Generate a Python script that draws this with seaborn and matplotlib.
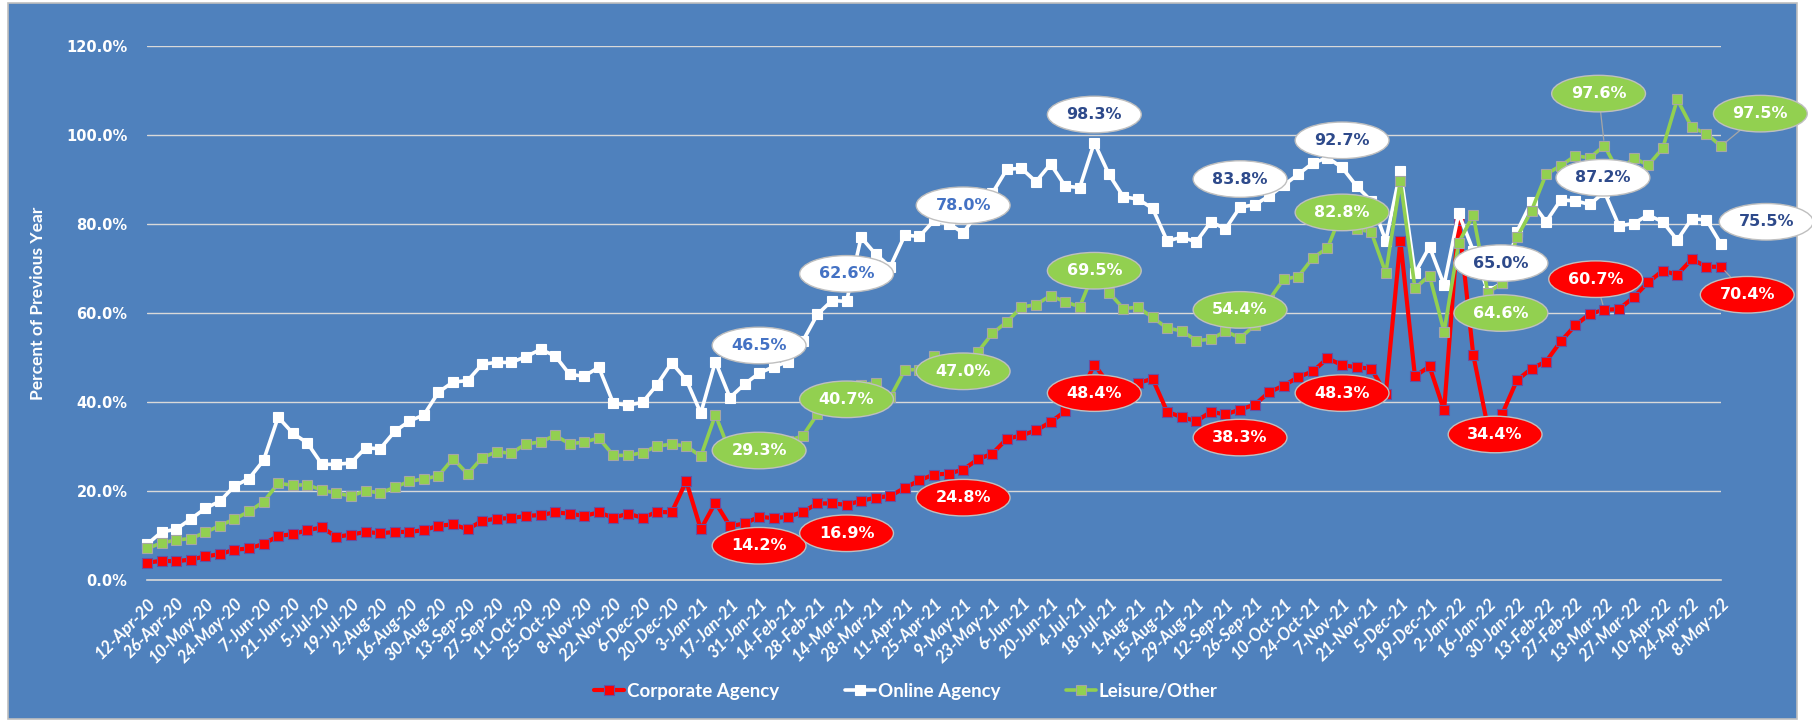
import numpy as np
import pandas as pd
import seaborn as sns
import matplotlib.pyplot as plt
from matplotlib.patches import Rectangle
from matplotlib.ticker import FuncFormatter

# weekly points, one per Sunday
weeks = pd.date_range('2020-04-12', periods=109, freq='7D')
tick_labels = [f"{d.day}-{d.strftime('%b-%y')}" for d in weeks]

corporate = [3.9, 4.3, 4.2, 4.6, 5.3, 5.8, 6.8, 7.1, 8.1, 9.9,
             10.3, 11.2, 11.8, 9.7, 10.2, 10.8, 10.5, 10.8, 10.8, 11.2,
             12.2, 12.5, 11.4, 13.3, 13.8, 13.9, 14.4, 14.6, 15.2, 14.9,
             14.4, 15.2, 14.0, 14.9, 14.0, 15.3, 15.2, 22.2, 11.4, 17.4,
             12.1, 12.7, 14.2, 13.9, 14.2, 15.3, 17.2, 17.2, 16.9, 17.8,
             18.5, 18.9, 20.7, 22.4, 23.7, 23.9, 24.8, 27.1, 28.4, 31.7,
             32.5, 33.6, 35.5, 37.9, 41.5, 48.4, 44.0, 43.5, 44.3, 45.2,
             37.8, 36.6, 35.7, 37.8, 37.2, 38.3, 39.4, 42.2, 43.7, 45.6,
             46.9, 49.8, 48.3, 47.8, 47.5, 41.9, 76.2, 45.8, 48.0, 38.1,
             81.0, 50.6, 34.4, 37.4, 44.9, 47.5, 49.1, 53.6, 57.2, 59.8,
             60.7, 60.9, 63.5, 66.9, 69.5, 68.6, 72.1, 70.4, 70.4]

online = [8.0, 10.8, 11.4, 13.7, 16.1, 17.7, 21.1, 22.8, 26.9, 36.6,
          33.0, 30.8, 26.0, 26.0, 26.3, 29.7, 29.5, 33.4, 35.7, 37.1,
          42.2, 44.5, 44.8, 48.5, 48.9, 48.9, 50.2, 51.8, 50.4, 46.2,
          45.8, 47.8, 39.7, 39.3, 39.9, 43.9, 48.8, 45.0, 37.5, 49.1,
          41.0, 44.0, 46.5, 47.9, 49.1, 53.7, 59.7, 62.8, 62.6, 77.0,
          73.2, 70.4, 77.5, 77.2, 80.8, 80.1, 78.0, 82.5, 86.9, 92.3,
          92.5, 89.5, 93.5, 88.5, 88.2, 98.3, 91.2, 86.1, 85.6, 83.5,
          76.2, 77.0, 76.0, 80.5, 78.9, 83.8, 84.3, 86.3, 88.7, 91.2,
          93.7, 94.9, 92.7, 88.5, 85.2, 76.2, 91.9, 68.9, 74.9, 66.3,
          82.4, 74.0, 65.0, 66.7, 78.3, 85.0, 80.5, 85.4, 85.2, 84.4,
          87.2, 79.6, 80.1, 82.0, 80.5, 76.4, 81.2, 80.9, 75.5]

leisure = [7.1, 8.3, 9.0, 9.3, 10.7, 12.2, 13.7, 15.4, 17.6, 21.7,
           21.3, 21.4, 20.2, 19.5, 18.9, 20.0, 19.6, 20.8, 22.2, 22.7,
           23.4, 27.3, 23.8, 27.5, 28.8, 28.5, 30.6, 31.0, 32.5, 30.6,
           31.0, 31.9, 28.0, 28.0, 28.6, 30.1, 30.5, 30.1, 27.8, 37.1,
           28.8, 29.5, 29.3, 30.5, 31.3, 32.4, 37.3, 40.4, 40.7, 43.9,
           44.3, 41.1, 47.2, 47.3, 50.4, 48.5, 47.0, 51.2, 55.4, 58.0,
           61.3, 61.9, 63.9, 62.5, 61.4, 69.5, 64.6, 61.0, 61.3, 59.0,
           56.6, 56.0, 53.8, 54.1, 55.9, 54.4, 57.2, 63.0, 67.6, 68.2,
           72.4, 74.6, 82.8, 78.9, 78.2, 69.0, 89.7, 65.6, 68.4, 55.8,
           75.8, 82.0, 64.6, 66.7, 77.0, 83.0, 91.2, 93.1, 95.3, 94.9,
           97.6, 91.5, 94.9, 93.2, 97.0, 108.0, 101.7, 100.3, 97.5]

series_names = ['Corporate Agency', 'Online Agency', 'Leisure/Other']

# points that carry a data label (index into weeks)
label_idx = [42, 48, 56, 65, 75, 82, 92, 100, 108]

# where each label bubble sits (x in week index, y in %)
label_pos = {
    'Corporate Agency': [(42, 7.7), (48, 10.5), (56, 18.5), (65, 42.0), (75, 32.0),
                         (82, 42.0), (92.5, 32.7), (99.4, 67.6), (109.8, 64.1)],
    'Online Agency': [(42, 52.7), (48, 68.8), (56, 84.2), (65, 104.6), (75, 90.1),
                      (82, 98.8), (92.9, 71.2), (99.9, 90.4), (111.1, 80.5)],
    'Leisure/Other': [(42, 29.1), (48, 40.6), (56, 46.9), (65, 69.5), (75, 60.7),
                      (82, 82.6), (92.9, 60.0), (99.6, 109.3), (110.7, 104.8)],
}
leaders = {
    'Corporate Agency': [100, 108],
    'Online Agency': [],
    'Leisure/Other': [100, 108],
}

BG = '#4F81BD'
NARROW = ['Lato', 'DejaVu Sans']
styles = {
    'Corporate Agency': dict(color='#FF0000', mec='#6A4FA0', lw=3.0, z=3),
    'Online Agency': dict(color='#FFFFFF', mec='#FFFFFF', lw=2.6, z=4),
    'Leisure/Other': dict(color='#92D050', mec='#A6A6A6', lw=2.6, z=5),
}
bubble = {
    'Corporate Agency': dict(fc='#FF0000', tc=['white'] * 9),
    'Online Agency': dict(fc='#FFFFFF', tc=['#4472C4'] * 3 + ['#2E4A8B'] * 6),
    'Leisure/Other': dict(fc='#92D050', tc=['white'] * 9),
}

df = pd.DataFrame({'week': np.arange(len(weeks)),
                   'Corporate Agency': corporate,
                   'Online Agency': online,
                   'Leisure/Other': leisure})
long_df = df.melt(id_vars='week', var_name='series', value_name='pct')

sns.set_theme(style='white')
plt.rcParams['font.family'] = ['DejaVu Sans']

fig = plt.figure(figsize=(18.12, 7.22), dpi=100, facecolor='white')
fig.patches.append(Rectangle((8 / 1812, 3 / 722), 1789 / 1812, 716 / 722,
                             transform=fig.transFigure, facecolor=BG,
                             edgecolor='#BFBFBF', linewidth=1.2, zorder=-10))
ax = fig.add_axes([147 / 1812, 1 - 580 / 722, 1574 / 1812, 534 / 722])
ax.set_facecolor(BG)
ax.set_zorder(1)

for name in series_names:
    st = styles[name]
    sub = long_df[long_df['series'] == name]
    sns.lineplot(data=sub, x='week', y='pct', ax=ax, color=st['color'],
                 linewidth=st['lw'], marker='s', markersize=7,
                 markeredgecolor=st['mec'], markeredgewidth=0.8,
                 zorder=st['z'], clip_on=False, legend=False)

# data label bubbles
for name in series_names:
    vals = df[name].values
    b = bubble[name]
    for k, (i, (lx, ly)) in enumerate(zip(label_idx, label_pos[name])):
        arrow = None
        if i in leaders[name]:
            arrow = dict(arrowstyle='-', color='#A6A6A6', lw=0.9,
                         shrinkA=0, shrinkB=4)
        ax.annotate(f'{vals[i]:.1f}%', xy=(i, vals[i]), xytext=(lx, ly),
                    textcoords='data', ha='center', va='center',
                    fontsize=11.5, fontweight='bold', color=b['tc'][k],
                    bbox=dict(boxstyle='ellipse,pad=0.34', fc=b['fc'],
                              ec='#BFBFBF', lw=1),
                    arrowprops=arrow, annotation_clip=False, zorder=10)

ax.set_xlim(0, 108)
ax.set_ylim(0, 120)
ax.set_yticks(np.arange(0, 121, 20))
ax.yaxis.set_major_formatter(FuncFormatter(lambda v, p: f'{v:.1f}%'))
ax.set_xticks(np.arange(0, 109, 2))
ax.set_xticklabels(tick_labels[::2], rotation=45, ha='right',
                   rotation_mode='anchor', color='white', fontsize=12.3,
                   fontweight='bold', fontstyle='italic', family=NARROW)
for t in ax.get_yticklabels():
    t.set_color('white')
    t.set_fontsize(10.5)
    t.set_fontweight('bold')
ax.tick_params(axis='x', direction='out', length=5, width=1,
               color='#D9D9D9', pad=6)
ax.tick_params(axis='y', length=0, pad=14)
ax.yaxis.grid(True, color='#D9D9D9', linewidth=1)
ax.xaxis.grid(False)
for side in ['left', 'right', 'top']:
    ax.spines[side].set_visible(False)
ax.spines['bottom'].set_color('#D9D9D9')
ax.spines['bottom'].set_linewidth(1.2)
ax.set_xlabel('')
ax.set_ylabel('')

fig.text(38 / 1812, 1 - 303 / 722, 'Percent of Previous Year', rotation=90,
         ha='center', va='center', color='white', fontsize=12.5,
         fontweight='bold', family=NARROW)

handles = []
for name in series_names:
    st = styles[name]
    h, = ax.plot([], [], color=st['color'], lw=st['lw'], marker='s',
                 markersize=7, markeredgecolor=st['mec'], markeredgewidth=0.8)
    handles.append(h)
leg = fig.legend(handles, series_names, loc='center',
                 bbox_to_anchor=(0.5, 1 - 691 / 722), ncol=3, frameon=False,
                 handlelength=1.6, handletextpad=0.15, columnspacing=3.5,
                 prop={'family': NARROW, 'size': 13.5, 'weight': 'bold'})
for t in leg.get_texts():
    t.set_color('white')

fig.savefig('out.png', dpi=100, facecolor='white')
